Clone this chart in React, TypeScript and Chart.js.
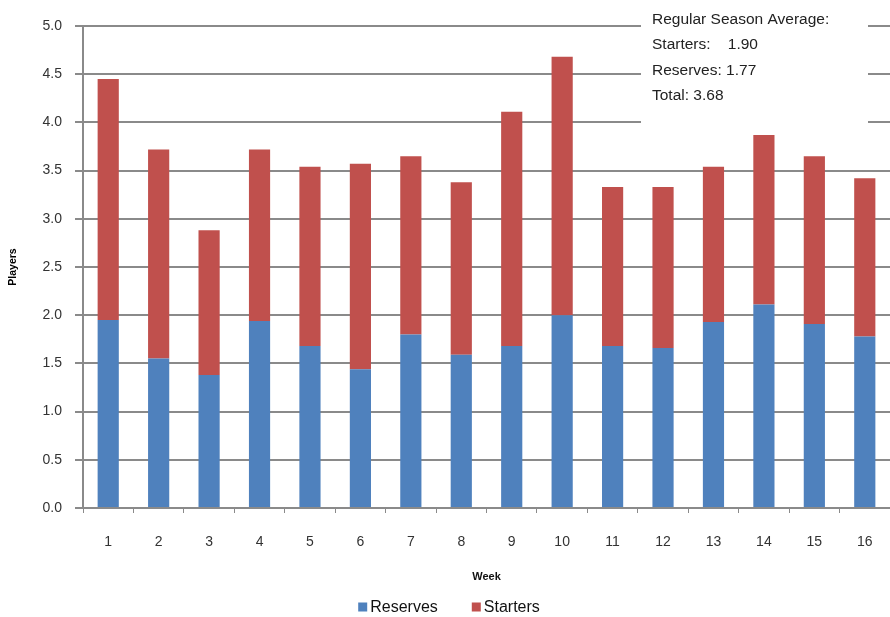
import React, { useEffect, useRef } from "react";
import { Chart, registerables } from "chart.js";

Chart.register(...registerables);

// Weekly players per game, split by role
const weeks = ["1", "2", "3", "4", "5", "6", "7", "8", "9", "10", "11", "12", "13", "14", "15", "16"];
const reserves = [1.95, 1.55, 1.38, 1.94, 1.68, 1.44, 1.8, 1.59, 1.68, 2.0, 1.68, 1.66, 1.93, 2.11, 1.91, 1.78];
const starters = [2.5, 2.17, 1.5, 1.78, 1.86, 2.13, 1.85, 1.79, 2.43, 2.68, 1.65, 1.67, 1.61, 1.76, 1.74, 1.64];

// Season averages shown in the note box
const averageTitle = "Regular Season Average:";
const averageLines = ["Starters:    1.90", "Reserves: 1.77", "Total: 3.68"];

const FONT = '"Liberation Sans", Arial, sans-serif';
const BLUE = "#4f81bd";
const RED = "#c0504d";
const GRID = "#8a8a8a";

// White note box with the season averages, over the grid lines
const noteBox = {
  id: "noteBox",
  beforeDatasetsDraw(chart: any) {
    const ctx = chart.ctx;
    ctx.save();
    ctx.fillStyle = "#ffffff";
    ctx.fillRect(641, 0, 227, 123);
    ctx.fillStyle = "#222222";
    ctx.font = `15.5px ${FONT}`;
    ctx.textBaseline = "middle";
    ctx.textAlign = "left";
    ctx.fillText(averageTitle, 652, 20);
    const ys = [45, 71, 96];
    averageLines.forEach((t, i) => ctx.fillText(t, 652, ys[i]));
    ctx.restore();
  },
};

// Legend row under the axis title, built from the datasets
const bottomLegend = {
  id: "bottomLegend",
  afterDraw(chart: any) {
    const ctx = chart.ctx;
    const y = 608;
    const box = 9;
    const gap = 3;
    const spacing = 34;
    ctx.save();
    ctx.font = `16px ${FONT}`;
    ctx.textBaseline = "middle";
    ctx.textAlign = "left";
    const items = chart.data.datasets.map((d: any) => ({
      label: d.label,
      color: d.backgroundColor,
      w: ctx.measureText(d.label).width,
    }));
    const total = items.reduce((s: number, it: any) => s + box + gap + it.w, 0) + spacing * (items.length - 1);
    let x = 449 - total / 2;
    items.forEach((it: any) => {
      ctx.fillStyle = it.color;
      ctx.fillRect(x, y - box / 2 - 1, box, box);
      ctx.fillStyle = "#111";
      ctx.fillText(it.label, x + box + gap, y);
      x += box + gap + it.w + spacing;
    });
    ctx.restore();
  },
};

export default function App() {
  const ref = useRef<HTMLCanvasElement | null>(null);

  useEffect(() => {
    if (!ref.current) return;
    const chart = new Chart(ref.current, {
      type: "bar",
      data: {
        labels: weeks,
        datasets: [
          {
            label: "Reserves",
            data: reserves,
            backgroundColor: BLUE,
            barPercentage: 0.42,
            categoryPercentage: 1,
          },
          {
            label: "Starters",
            data: starters,
            backgroundColor: RED,
            barPercentage: 0.42,
            categoryPercentage: 1,
          },
        ],
      },
      options: {
        responsive: false,
        animation: false,
        layout: { padding: { top: 26, right: 0, left: 0, bottom: 0 } },
        plugins: {
          tooltip: { enabled: false },
          legend: { display: false },
        },
        scales: {
          x: {
            stacked: true,
            offset: true,
            afterFit(scale: any) {
              scale.height = 109;
              scale.paddingLeft = 0;
              scale.paddingRight = 0;
            },
            grid: {
              offset: true,
              drawOnChartArea: false,
              tickLength: 5,
              color: GRID,
            },
            border: { color: GRID, width: 2 },
            ticks: {
              color: "#333",
              font: { family: FONT, size: 14 },
              padding: 21,
              maxRotation: 0,
            },
            title: {
              display: true,
              text: "Week",
              color: "#111",
              font: { family: FONT, size: 11, weight: "bold" },
              padding: { top: 0, bottom: 33 },
            },
          },
          y: {
            stacked: true,
            min: 0,
            max: 5,
            afterFit(scale: any) {
              scale.width = 83;
            },
            ticks: {
              stepSize: 0.5,
              color: "#333",
              font: { family: FONT, size: 14 },
              padding: 13,
              callback: (v: any) => Number(v).toFixed(1),
            },
            grid: { color: GRID, lineWidth: 2, tickLength: 8 },
            border: { color: GRID, width: 2 },
            title: {
              display: true,
              text: "Players",
              color: "#000",
              font: { family: FONT, size: 10.5, weight: "bold" },
              padding: { top: 7, bottom: 0 },
            },
          },
        },
      },
      plugins: [noteBox, bottomLegend],
    });
    return () => chart.destroy();
  }, []);

  return (
    <div style={{ position: "fixed", left: 0, top: 0, width: 890, height: 617, background: "#fff" }}>
      <canvas ref={ref} width={890} height={617} style={{ width: 890, height: 617 }} />
    </div>
  );
}
